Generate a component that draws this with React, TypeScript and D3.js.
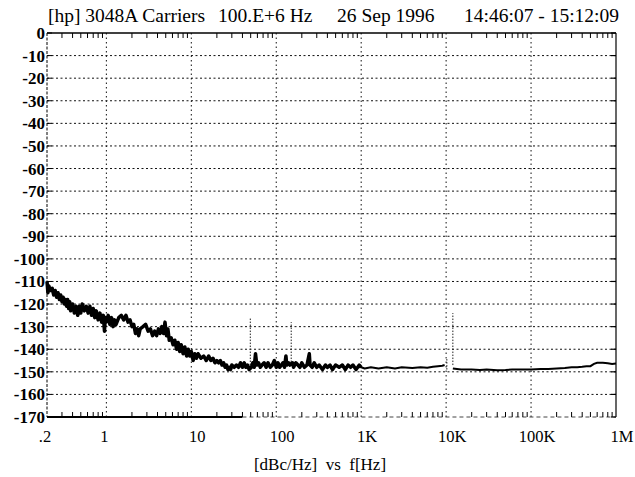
import React, { useRef, useEffect } from "react";
import * as d3 from "d3";

// frequency axis (Hz) and level axis (dBc/Hz)
const freqTicks = [0.2, 1, 10, 100, 1e3, 1e4, 1e5, 1e6];
const freqTickLabels = [".2", "1", "10", "100", "1K", "10K", "100K", "1M"];
const dbTicks = [0, -10, -20, -30, -40, -50, -60, -70, -80, -90, -100, -110, -120, -130, -140, -150, -160, -170];

// low band segment, 0.2 Hz .. 10 kHz (noisy trace)
const lowFreq = [
    0.2, 0.205, 0.21, 0.22, 0.23, 0.24, 0.25, 0.26, 0.27, 0.28, 0.29, 0.3, 0.31, 0.32, 0.33, 0.34,
    0.35, 0.36, 0.37, 0.38, 0.4, 0.42, 0.44, 0.46, 0.48, 0.5, 0.52, 0.55, 0.58, 0.61, 0.64, 0.67,
    0.7, 0.73, 0.76, 0.8, 0.84, 0.88, 0.92, 0.95, 0.97, 1.0, 1.05, 1.1, 1.15, 1.2, 1.25, 1.3,
    1.4, 1.5, 1.6, 1.7, 1.8, 1.9, 2.0, 2.1, 2.2, 2.3, 2.4, 2.5, 2.7, 2.9, 3.1, 3.3, 3.5, 3.7,
    3.9, 4.1, 4.3, 4.5, 4.7, 4.9, 5.1, 5.3, 5.5, 5.8, 6.1, 6.4, 6.7, 7.0, 7.3, 7.6, 8.0, 8.4,
    8.8, 9.2, 9.6, 10, 10.5, 11, 11.5, 12, 13, 14, 15, 16, 17, 18, 19, 20, 21, 22, 23, 24,
    25, 26, 27, 28, 29, 30, 32, 34, 36, 38, 40, 42, 44, 46, 48, 51, 53, 55, 57, 59,
    62, 65, 68, 72, 76, 80, 85, 90, 95, 100, 105, 110, 115, 120, 125, 130, 133, 140, 145, 155,
    160, 170, 180, 190, 200, 215, 230, 245, 250, 265, 280, 300, 320, 350, 380, 400, 430, 460, 500, 550,
    600, 650, 700, 750, 800, 870, 950, 1000, 1100, 1300, 1600, 2000, 2500, 3000, 4000, 5000, 6000, 7000,
    8000, 9000, 9600,
];
const lowDb = [
    -110, -115, -112, -114, -113, -116, -114, -117, -115, -118, -116, -119, -117, -120, -118, -121,
    -118, -122, -119, -123, -120, -124, -121, -125, -121, -124, -120, -123, -121, -124, -121, -125,
    -122, -126, -123, -127, -124, -128, -125, -132, -126, -128, -125, -129, -126, -130, -127, -129,
    -126, -125, -127, -125, -128, -127, -130, -129, -133, -131, -134, -131, -130, -129, -132, -131, -134, -132,
    -134, -131, -133, -130, -133, -128, -134, -131, -136, -135, -138, -136, -140, -137, -141, -138, -142, -139,
    -143, -140, -143, -141, -145, -142, -144, -142, -144, -143, -145, -143, -145, -144, -146, -145, -146, -145, -147, -146,
    -148, -147, -149, -148, -149, -147, -148, -147, -148, -146, -148, -146, -148, -147, -149, -148, -146, -148, -142, -147,
    -146, -148, -147, -146, -148, -146, -148, -147, -145, -148, -146, -148, -147, -146, -148, -143, -147, -146, -147, -146,
    -148, -146, -147, -148, -146, -148, -147, -142, -147, -148, -146, -148, -147, -149, -147, -148, -147, -149, -147, -148,
    -147, -149, -147, -148, -147, -149, -147, -148, -148.5, -148, -148.5, -148, -148.5, -148, -148.3, -148, -148.2, -147.8,
    -147.5, -147.3, -147,
];

// high band segment, 12 kHz .. 1 MHz
const highFreq = [12e3, 15e3, 20e3, 25e3, 30e3, 40e3, 50e3, 60e3, 80e3, 100e3, 130e3, 160e3, 200e3, 250e3, 300e3, 350e3, 400e3, 450e3, 500e3, 550e3, 600e3, 700e3, 800e3, 900e3, 1e6];
const highDb = [-148.5, -149, -149, -149.2, -149, -149.3, -149.2, -149, -149, -149, -148.8, -148.7, -148.5, -148.3, -148, -148, -147.8, -147.5, -147.5, -146.5, -146, -146, -146.2, -146.5, -146.3];

// discrete spurs (faint dotted lines above the floor)
const spurFreq = [49.5, 150, 10200, 12000];
const spurTop = [-126, -128, -144, -124];
const spurBase = [-147, -147, -149, -147];

const minorMult = [2, 3, 4, 5, 6, 7, 8, 9];

const App: React.FC = () => {
    const ref = useRef<SVGSVGElement>(null);

    useEffect(() => {
        if (!ref.current) return;
        const svg = d3.select(ref.current);
        svg.selectAll("*").remove();

        const left = 47, right = 616, top = 33, bottom = 417;
        const x = d3.scaleLog().domain([0.2, 1e6]).range([left, right]);
        const y = d3.scaleLinear().domain([0, -170]).range([top, bottom]);
        const font = "'Liberation Serif', 'Times New Roman', serif";

        svg.append("rect").attr("width", 635).attr("height", 477).attr("fill", "#fff");

        // title, in four pieces as on the plotter output
        const title = (tx: number, s: string, anchor = "start") =>
            svg.append("text").attr("x", tx).attr("y", 22).attr("text-anchor", anchor)
                .style("font-family", font).style("font-size", "19.5px").text(s);
        title(48, "[hp] 3048A Carriers");
        title(218, "100.E+6 Hz");
        title(337, "26 Sep 1996");
        title(619, "14:46:07 - 15:12:09", "end");

        // grid
        const grid = svg.append("g").attr("stroke", "#111").attr("stroke-width", 1);
        grid.selectAll("line.h").data(dbTicks.slice(1, -1)).enter().append("line")
            .attr("x1", left).attr("x2", right)
            .attr("y1", d => y(d)).attr("y2", d => y(d))
            .attr("stroke-dasharray", "2,2.5");
        grid.selectAll("line.v").data(freqTicks.slice(1, -1)).enter().append("line")
            .attr("x1", d => x(d)).attr("x2", d => x(d))
            .attr("y1", top).attr("y2", bottom)
            .attr("stroke-dasharray", "1.5,3");

        // frame
        const frame = svg.append("g").attr("fill", "none").attr("stroke", "#000");
        frame.append("line").attr("x1", left).attr("x2", right).attr("y1", top).attr("y2", top).attr("stroke-width", 1.5);
        frame.append("line").attr("x1", right).attr("x2", right).attr("y1", top).attr("y2", bottom).attr("stroke-width", 1.2);
        frame.append("line").attr("x1", left).attr("x2", left).attr("y1", top).attr("y2", bottom)
            .attr("stroke-width", 1).attr("stroke-dasharray", "3,1.5");
        frame.append("line").attr("x1", left).attr("x2", x(40)).attr("y1", bottom).attr("y2", bottom).attr("stroke-width", 2);
        frame.append("line").attr("x1", x(40)).attr("x2", right).attr("y1", bottom).attr("y2", bottom)
            .attr("stroke-width", 1).attr("stroke-dasharray", "4,3").attr("stroke", "#444");

        // minor log ticks top / bottom
        const minors: number[] = [];
        [0.1, 1, 10, 100, 1e3, 1e4, 1e5].forEach(dec => minorMult.forEach(m => {
            const v = dec * m;
            if (v > 0.2 && v < 1e6) minors.push(v);
        }));
        frame.selectAll("line.mt").data(minors).enter().append("line")
            .attr("x1", d => x(d)).attr("x2", d => x(d)).attr("y1", top).attr("y2", top + 5).attr("stroke-width", 1);
        frame.selectAll("line.mb").data(minors).enter().append("line")
            .attr("x1", d => x(d)).attr("x2", d => x(d)).attr("y1", bottom).attr("y2", bottom - 5).attr("stroke-width", 1);
        frame.selectAll("line.ml").data(dbTicks).enter().append("line")
            .attr("x1", left).attr("x2", left + 5).attr("y1", d => y(d)).attr("y2", d => y(d)).attr("stroke-width", 1);
        frame.selectAll("line.mr").data(dbTicks).enter().append("line")
            .attr("x1", right).attr("x2", right - 5).attr("y1", d => y(d)).attr("y2", d => y(d)).attr("stroke-width", 1.2);

        // y labels
        svg.append("g").selectAll("text").data(dbTicks).enter().append("text")
            .attr("x", left - 2).attr("y", d => y(d) + 6).attr("text-anchor", "end")
            .style("font-family", font).style("font-size", "17px").style("font-weight", "bold")
            .text(d => String(d));

        // x labels
        svg.append("g").selectAll("text").data(freqTicks).enter().append("text")
            .attr("x", d => x(d) + (d < 5 ? -2 : 6)).attr("y", 442).attr("text-anchor", "middle")
            .style("font-family", font).style("font-size", "16.5px")
            .text((d, i) => freqTickLabels[i]);

        svg.append("text").attr("x", 320).attr("y", 470).attr("text-anchor", "middle")
            .attr("xml:space", "preserve")
            .style("font-family", font).style("font-size", "17px")
            .text("[dBc/Hz]  vs  f[Hz]");

        // spurs
        svg.append("g").selectAll("line").data(spurFreq).enter().append("line")
            .attr("x1", d => x(d)).attr("x2", d => x(d))
            .attr("y1", (d, i) => y(spurBase[i])).attr("y2", (d, i) => y(spurTop[i]))
            .attr("stroke", "#222").attr("stroke-width", 1).attr("stroke-dasharray", "1.5,1.5");

        // trace
        const line = d3.line<[number, number]>().x(d => x(d[0])).y(d => y(d[1]));
        const lowPts = lowFreq.map((f, i) => [f, lowDb[i]] as [number, number]);
        const highPts = highFreq.map((f, i) => [f, highDb[i]] as [number, number]);
        svg.append("path").attr("d", line(lowPts)).attr("fill", "none")
            .attr("stroke", "#000").attr("stroke-width", 2).attr("stroke-linejoin", "round");
        // the close-in part is a dense noisy band on the original
        svg.append("path").attr("d", line(lowPts.filter(p => p[0] <= 1000))).attr("fill", "none")
            .attr("stroke", "#000").attr("stroke-width", 3.5).attr("stroke-linejoin", "round");
        svg.append("path").attr("d", line(highPts)).attr("fill", "none")
            .attr("stroke", "#000").attr("stroke-width", 2);
    }, []);

    return (
        <svg ref={ref} width={635} height={477}
            style={{ position: "absolute", left: 0, top: 0, display: "block" }} />
    );
};

export default App;
